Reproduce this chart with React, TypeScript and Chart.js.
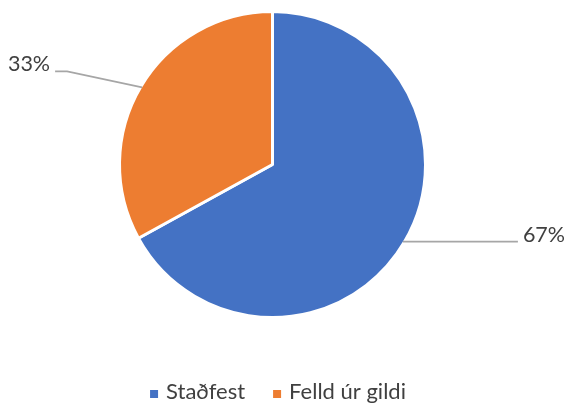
import React, { useEffect, useRef } from 'react';
import { Chart, registerables } from 'chart.js';

Chart.register(...registerables);

const categories = ['Staðfest', 'Felld úr gildi'];
const values = [67, 33];
const percentLabels = ['67%', '33%'];
const colors = ['#4472C4', '#ED7D31'];

const FONT = 'Lato, "Open Sans", sans-serif';
const TEXT_COLOR = '#404040';

// leader line shape per slice: elbow offset from the arc anchor, then a horizontal tail
const leaderElbow = [
  [115, 0],
  [-75, -16],
];
const leaderTail = [0, 12];

const labelPlugin = {
  id: 'pieLabels',
  afterDatasetsDraw(chart: any) {
    const ctx = chart.ctx;
    const meta = chart.getDatasetMeta(0);
    ctx.save();
    ctx.font = `21.5px ${FONT}`;
    ctx.strokeStyle = '#A6A6A6';
    ctx.lineWidth = 1.6;
    ctx.fillStyle = TEXT_COLOR;
    ctx.textBaseline = 'alphabetic';
    meta.data.forEach((arc: any, i: number) => {
      const p = arc.getProps(['x', 'y', 'startAngle', 'endAngle', 'outerRadius'], true);
      const mid = (p.startAngle + p.endAngle) / 2;
      const r = p.outerRadius - 1.5;
      const ax = p.x + Math.cos(mid) * r;
      const ay = p.y + Math.sin(mid) * r;
      const right = Math.cos(mid) >= 0;
      const ex = ax + leaderElbow[i][0];
      const ey = ay + leaderElbow[i][1];
      const tx = ex + (right ? leaderTail[i] : -leaderTail[i]);
      ctx.beginPath();
      ctx.moveTo(ax, ay);
      ctx.lineTo(ex, ey);
      ctx.lineTo(tx, ey);
      ctx.stroke();
      ctx.textAlign = right ? 'left' : 'right';
      ctx.fillText(percentLabels[i], right ? tx + 5 : tx - 5, ey);
    });
    ctx.restore();
  },
  afterDraw(chart: any) {
    const ctx = chart.ctx;
    ctx.save();
    ctx.font = `22px ${FONT}`;
    ctx.textBaseline = 'alphabetic';
    ctx.textAlign = 'left';
    const box = 8;
    const gap = 8;
    const spacing = 28;
    const widths = categories.map((c) => ctx.measureText(c).width);
    const total = widths.reduce((a, w) => a + box + gap + w, 0) + spacing * (categories.length - 1);
    let x = 278 - total / 2;
    const baseline = 399;
    categories.forEach((c, i) => {
      ctx.fillStyle = colors[i];
      ctx.fillRect(x, baseline - 9, box, box);
      x += box + gap;
      ctx.fillStyle = TEXT_COLOR;
      ctx.fillText(c, x, baseline);
      x += widths[i] + spacing;
    });
    ctx.restore();
  },
};

export default function App() {
  const ref = useRef<HTMLCanvasElement | null>(null);
  useEffect(() => {
    document.body.style.margin = '0';
    const chart = new Chart(ref.current as HTMLCanvasElement, {
      type: 'pie',
      data: {
        labels: categories,
        datasets: [
          {
            data: values,
            backgroundColor: colors,
            borderColor: '#FFFFFF',
            borderWidth: 3,
            hoverOffset: 0,
          },
        ],
      },
      options: {
        animation: false,
        responsive: false,
        maintainAspectRatio: false,
        layout: { padding: { top: 10, bottom: 84, left: 0, right: 19 } },
        plugins: {
          legend: { display: false },
          tooltip: { enabled: false },
        },
      },
      plugins: [labelPlugin],
    });
    return () => chart.destroy();
  }, []);
  return (
    <div style={{ position: 'fixed', left: 0, top: 0, width: 564, height: 403, background: '#fff' }}>
      <canvas ref={ref} width={564} height={403} style={{ width: 564, height: 403 }} />
    </div>
  );
}
